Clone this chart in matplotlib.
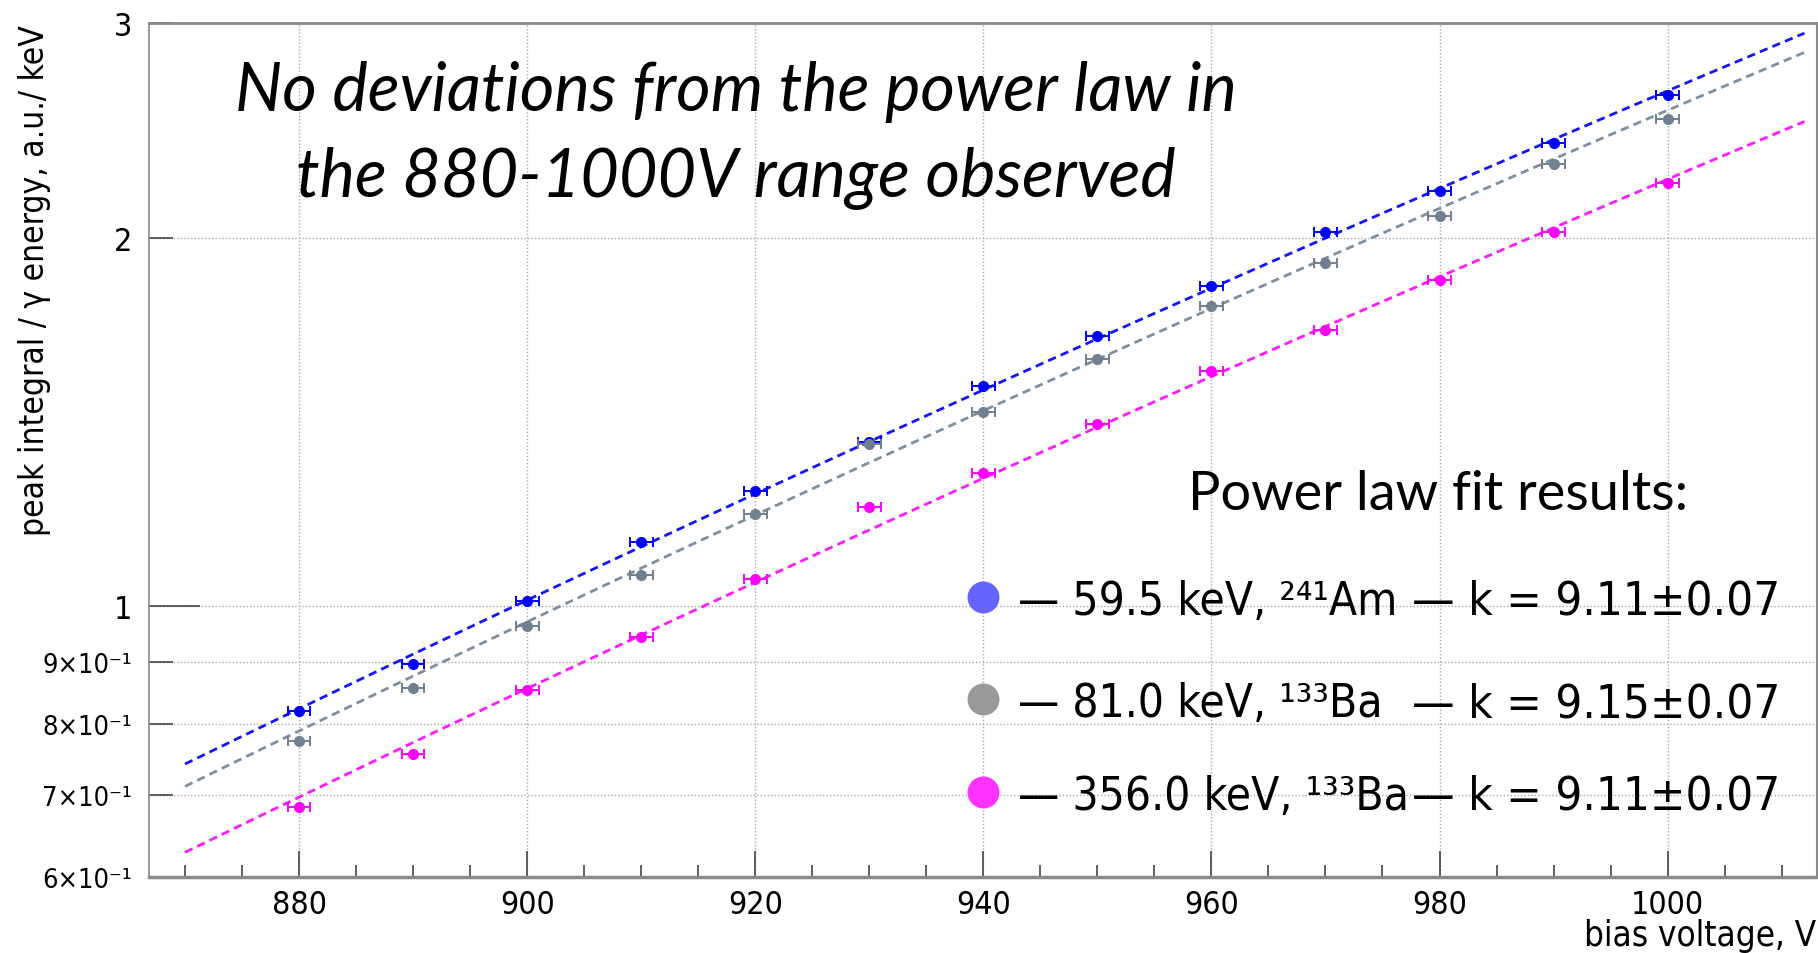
import matplotlib
matplotlib.use("Agg")
import matplotlib.pyplot as plt
import matplotlib.lines as mlines
from matplotlib.ticker import FixedLocator, FixedFormatter
import numpy as np

SANS = ["DejaVu Sans", "Liberation Sans"]
plt.rcParams["font.family"] = SANS
plt.rcParams["font.stretch"] = "condensed"

# bias voltage scan, V
volts = [880, 890, 900, 910, 920, 930, 940, 950, 960, 970, 980, 990, 1000]
volt_err = 1.0

# peak integral / gamma energy, a.u./keV
am241_59 = [0.821, 0.897, 1.009, 1.128, 1.242, 1.362, 1.513, 1.663, 1.828, 2.022, 2.186, 2.395, 2.620]
ba133_81 = [0.775, 0.856, 0.963, 1.061, 1.189, 1.356, 1.442, 1.592, 1.761, 1.910, 2.084, 2.301, 2.503]
ba133_356 = [0.685, 0.757, 0.853, 0.943, 1.052, 1.205, 1.284, 1.408, 1.557, 1.682, 1.848, 2.022, 2.217]
series = [am241_59, ba133_81, ba133_356]

# power law fits  y = A * (V / 1000 V)^k
fit_k = [9.11, 9.15, 9.11]
fit_k_err = [0.07, 0.07, 0.07]
fit_at_1000 = [2.64, 2.545, 2.235]
fit_range = (870, 1012)

line_labels = ["— 59.5 keV, ²⁴¹Am", "— 81.0 keV, ¹³³Ba", "— 356.0 keV, ¹³³Ba"]
point_colors = ["#0000ff", "#708090", "#ff00ff"]
fit_colors = ["#1414ff", "#7f8fa0", "#ff1aff"]
legend_colors = ["#6464ff", "#999999", "#ff33ff"]

ytick_vals = [0.6, 0.7, 0.8, 0.9, 2, 3]
ytick_text = ["6×10⁻¹", "7×10⁻¹", "8×10⁻¹", "9×10⁻¹", "2", "3"]

W, H = 1818, 954
fig = plt.figure(figsize=(W / 100, H / 100), dpi=100)
ax = fig.add_axes([148.5 / W, 1 - 878 / H, (1817 - 148.5) / W, (878 - 24) / H])

ax.set_yscale("log")
ax.set_xlim(866.8, 1013.1)
ax.set_ylim(0.6, 3.0)

vv = np.linspace(fit_range[0], fit_range[1], 300)
for ys, pc, fc, k, a in zip(series, point_colors, fit_colors, fit_k, fit_at_1000):
    ax.plot(vv, a * (vv / 1000.0) ** k, ls=(0, (3.0, 1.9)), color=fc, lw=2.0, zorder=2)
    ax.errorbar(volts, ys, xerr=volt_err, fmt="o", ms=7, color=pc, ecolor=pc,
                elinewidth=1.4, capsize=3.5, capthick=1.4, zorder=3)

# ticks and grid
ax.xaxis.set_major_locator(FixedLocator([880, 900, 920, 940, 960, 980, 1000]))
ax.xaxis.set_minor_locator(FixedLocator(np.arange(870, 1011, 5)))
ax.yaxis.set_major_locator(FixedLocator([1]))
ax.yaxis.set_major_formatter(FixedFormatter(["1"]))
ax.yaxis.set_minor_locator(FixedLocator(ytick_vals))
ax.yaxis.set_minor_formatter(FixedFormatter(ytick_text))

ax.tick_params(axis="x", which="major", direction="in", length=19, width=1.2,
               color="#444444", labelsize=23, pad=9, top=False)
ax.tick_params(axis="x", which="minor", direction="in", length=9, width=1.2,
               color="#444444", top=False)
ax.tick_params(axis="y", which="major", direction="in", length=37, width=1.2,
               color="#444444", labelsize=23, pad=12, right=False)
ax.tick_params(axis="y", which="minor", direction="in", length=17, width=1.2,
               color="#444444", labelsize=23, pad=12, right=False)

ax.xaxis.grid(True, which="major", ls=(0, (1, 1.5)), color="#a8a8a8", lw=1)
ax.yaxis.grid(True, which="both", ls=(0, (1, 1.5)), color="#a8a8a8", lw=1)
ax.set_axisbelow(True)

for side, lw in [("left", 1.2), ("bottom", 2.5), ("top", 2.0), ("right", 1.5)]:
    ax.spines[side].set_color("#8a8a8a")
    ax.spines[side].set_linewidth(lw)

# the "n×10⁻¹" labels are long, draw them a bit smaller
fig.canvas.draw()
for lbl in ax.yaxis.get_minorticklabels():
    if "×" in lbl.get_text():
        lbl.set_fontsize(19.5)

# axis titles
fig.text(35 / W, 1 - 25 / H, "peak integral / γ energy, a.u./ keV", rotation=90,
         ha="center", va="top", fontsize=24)
fig.text(1816 / W, 1 - 936 / H, "bias voltage, V", ha="right", va="center", fontsize=25)

# annotation
fig.text(736 / W, 1 - 92 / H, "No deviations from the power law in", ha="center", va="center",
         fontsize=48, style="italic", family="Lato", stretch="normal")
fig.text(736 / W, 1 - 178 / H, "the 880-1000V range observed", ha="center", va="center",
         fontsize=48, style="italic", family="Lato", stretch="normal")

fig.text(1188 / W, 1 - 495 / H, "Power law fit results:", ha="left", va="center",
         fontsize=39, family="Lato", stretch="normal")

row_y = [598, 700, 793]
for yc, lab, col, k, ke in zip(row_y, line_labels, legend_colors, fit_k, fit_k_err):
    fig.add_artist(mlines.Line2D([983 / W], [1 - yc / H], marker="o", ms=23, color=col,
                                 mec="none", transform=fig.transFigure))
    fig.text(1018 / W, 1 - (yc + 17) / H, lab, ha="left", va="baseline", fontsize=33)
    fig.text(1412 / W, 1 - (yc + 17) / H, f"— k = {k:.2f}±{ke:.2f}", ha="left",
             va="baseline", fontsize=34)

fig.savefig("out.png", dpi=100)
